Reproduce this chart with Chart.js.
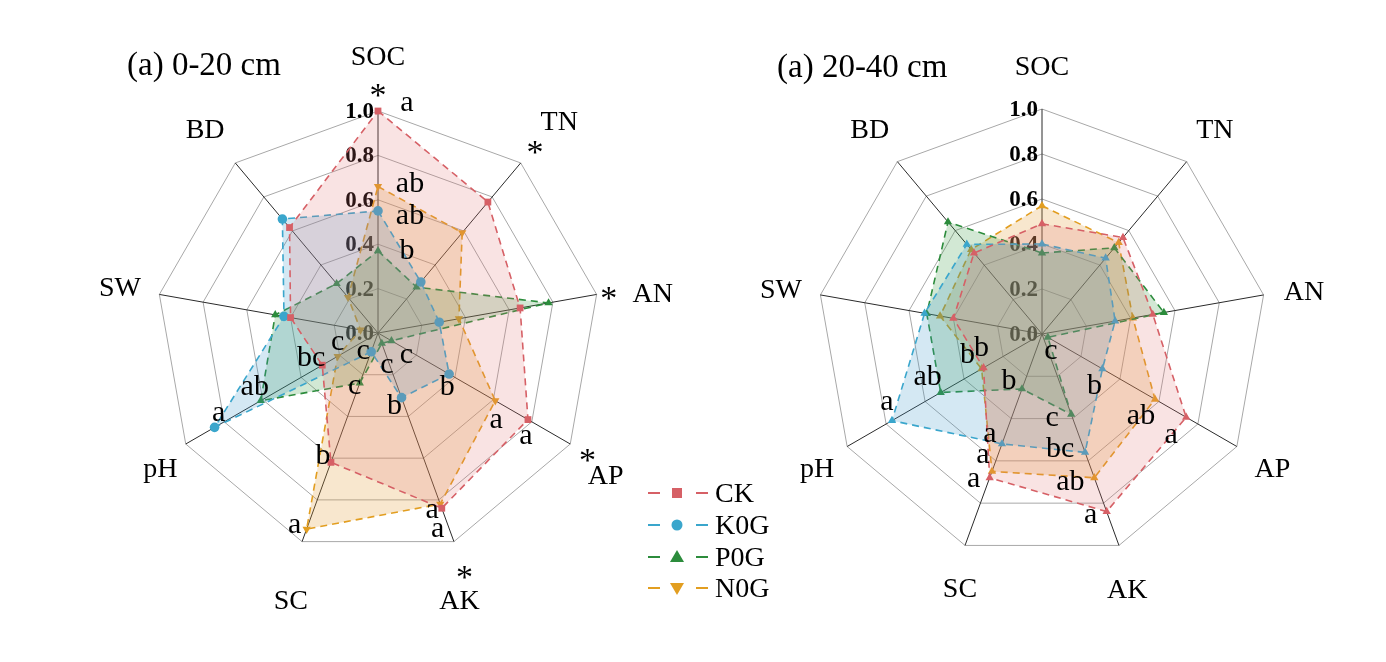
<!DOCTYPE html>
<html>
<head>
<meta charset="utf-8">
<script src="https://cdn.jsdelivr.net/npm/chart.js@4.4.1/dist/chart.umd.min.js"></script>
<style>
  body { margin: 0; background: #fff; }
  #wrap { position: relative; width: 1386px; height: 662px; overflow: hidden; font-family: "Liberation Serif", "Times New Roman", serif; }
  canvas { position: absolute; }
  .title { position: absolute; font-size: 33px; white-space: nowrap; line-height: 1; }
  .leg { position: absolute; left: 646px; height: 30px; display: flex; align-items: center; font-size: 28px; }
  .leg svg { margin-right: 5px; }
</style>
</head>
<body>
<div id="wrap">
  <canvas id="c1" width="640" height="640" style="left:58px;top:13px"></canvas>
  <canvas id="c2" width="640" height="640" style="left:722px;top:14px"></canvas>
  <div class="title" style="left:127px;top:48px">(a) 0-20 cm</div>
  <div class="title" style="left:777px;top:50px">(a) 20-40 cm</div>
  <div id="legend"></div>
</div>
<script>
const axes = ["SOC", "TN", "AN", "AP", "AK", "SC", "pH", "SW", "BD"];
const seriesNames = ["CK", "K0G", "P0G", "N0G"];

// 0-20 cm
const ck1  = [1.00, 0.77, 0.65, 0.78, 0.84, 0.62, 0.29, 0.40, 0.62];
const k0g1 = [0.55, 0.30, 0.28, 0.37, 0.31, 0.09, 0.85, 0.43, 0.67];
const p0g1 = [0.37, 0.27, 0.78, 0.07, 0.05, 0.24, 0.61, 0.47, 0.29];
const n0g1 = [0.66, 0.59, 0.37, 0.61, 0.82, 0.94, 0.21, 0.08, 0.21];
const ckLet1  = ["a", "", "", "a", "a", "b", "bc", "", ""];
const k0gLet1 = ["ab", "", "", "b", "b", "c", "a", "", ""];
const p0gLet1 = ["b", "", "", "c", "c", "c", "ab", "", ""];
const n0gLet1 = ["ab", "", "", "a", "a", "a", "c", "", ""];
const stars1  = ["*", "*", "*", "*", "*", "", "", "", ""];

// 20-40 cm
const ck2  = [0.49, 0.56, 0.50, 0.74, 0.84, 0.68, 0.30, 0.40, 0.47];
const k0g2 = [0.40, 0.44, 0.33, 0.31, 0.56, 0.52, 0.77, 0.53, 0.52];
const p0g2 = [0.36, 0.50, 0.55, 0.03, 0.38, 0.26, 0.52, 0.52, 0.65];
const n0g2 = [0.57, 0.53, 0.41, 0.58, 0.68, 0.65, 0.31, 0.46, 0.49];
const ckLet2  = ["", "", "", "a", "a", "a", "b", "", ""];
const k0gLet2 = ["", "", "", "b", "bc", "a", "a", "", ""];
const p0gLet2 = ["", "", "", "c", "c", "b", "ab", "", ""];
const n0gLet2 = ["", "", "", "ab", "ab", "a", "b", "", ""];
const stars2  = ["", "", "", "", "", "", "", "", ""];

const colors = ["rgb(214,96,102)", "rgb(58,166,204)", "rgb(44,140,60)", "rgb(226,158,32)"];
const fills  = ["rgba(225,115,115,0.2)", "rgba(60,150,200,0.22)", "rgba(50,150,60,0.22)", "rgba(228,160,60,0.25)"];

// letter offsets (px) per axis, per series [CK, K0G, P0G, N0G]
const letOff1 = {
  0: [[29, -6], [32, 7], [29, 2], [32, 0]],
  3: [[-2, 19], [-2, 15], [15, 16], [1, 21]],
  4: [[-4, 23], [-7, 10], [5, 24], [-8, 8]],
  5: [[-8, -4], [-8, 1], [-5, 5], [-12, -2]],
  6: [[-11, -5], [4, -12], [-6, -12], [0, -12]]
};
const letOff2 = {
  3: [[-15, 20], [-8, 19], [3, 16], [-14, 19]],
  4: [[-16, 6], [-25, -1], [-19, 6], [-24, 6]],
  5: [[-16, 3], [-12, -8], [-13, -6], [-9, -14]],
  6: [[-16, -11], [-5, -17], [-13, -13], [0, -19]]
};
// axis-name placement: [px beyond outer ring, dx, dy]
const labelPos1 = [[56, 0, 3], [60, 0, 6], [57, 0, 10], [50, -8, 8], [57, -14, 6], [59, 9, 5], [35, 5, 8], [40, 0, 1], [47, 0, 4]];
const labelPos2 = [[44, 0, 3], [44, 0, 3], [41, 0, 5], [41, 0, 3], [45, -7, 3], [44, 10, 3], [37, 2, 5], [40, 0, 3], [43, 0, 2]];
const starDist1 = [1.1, 1.1, 1.055, 1.09, 1.14, 1, 1, 1, 1];

function textPlugin(letters, stars, offs, lpos, sdist) {
  return {
    id: "txt",
    beforeDatasetsDraw(chart) {
      const s = chart.scales.r, ctx = chart.ctx;
      ctx.save();
      ctx.font = 'bold 23px "Liberation Serif"';
      ctx.textAlign = "right";
      ctx.textBaseline = "middle";
      ctx.fillStyle = "#000";
      s.ticks.forEach(t => {
        const p = s.getPointPositionForValue(0, t.value);
        ctx.fillText(t.value.toFixed(1), p.x - 4, p.y + 1);
      });
      ctx.restore();
    },
    afterDatasetsDraw(chart) {
      const s = chart.scales.r, ctx = chart.ctx;
      ctx.save();
      ctx.fillStyle = "#000";
      ctx.textAlign = "center";
      ctx.textBaseline = "middle";
      // axis names
      ctx.font = '28px "Liberation Serif"';
      axes.forEach((a, i) => {
        const p = s.getPointPosition(i, s.drawingArea + lpos[i][0]);
        ctx.fillText(a, p.x + lpos[i][1], p.y + lpos[i][2]);
      });
      // significance stars
      ctx.font = '34px "Liberation Serif"';
      ctx.textBaseline = "alphabetic";
      stars.forEach((st, i) => {
        if (!st) return;
        const p = s.getPointPosition(i, s.drawingArea * sdist[i]);
        ctx.fillText(st, p.x, p.y + 17);
      });
      // letters
      ctx.font = '30px "Liberation Serif"';
      ctx.textBaseline = "middle";
      chart.data.datasets.forEach((ds, k) => {
        letters[k].forEach((l, i) => {
          if (!l) return;
          const p = s.getPointPositionForValue(i, ds.data[i]);
          const o = offs[i][k];
          ctx.fillText(l, p.x + o[0], p.y + o[1] - 2);
        });
      });
      ctx.restore();
    }
  };
}

function makeChart(id, sets, styles, rotations, letters, stars, offs, lpos, sdist, pad) {
  const datasets = sets.map((d, k) => ({
    label: seriesNames[k],
    data: d,
    borderColor: colors[k],
    backgroundColor: fills[k],
    borderWidth: 1.6,
    borderDash: [7, 5],
    fill: true,
    pointStyle: styles[k],
    rotation: rotations[k],
    pointRadius: 4.8,
    pointBackgroundColor: colors[k],
    pointBorderColor: colors[k],
    pointBorderWidth: 0
  }));
  return new Chart(document.getElementById(id), {
    type: "radar",
    data: { labels: axes, datasets: datasets },
    options: {
      responsive: false,
      animation: false,
      devicePixelRatio: 1,
      layout: { padding: pad },
      elements: { line: { tension: 0 } },
      plugins: { legend: { display: false }, tooltip: { enabled: false } },
      scales: {
        r: {
          min: 0,
          max: 1,
          ticks: { stepSize: 0.2, display: false },
          pointLabels: { display: false },
          grid: { color: "#a8a8a8", lineWidth: 1 },
          angleLines: { color: "#2a2a2a", lineWidth: 1 }
        }
      }
    },
    plugins: [textPlugin(letters, stars, offs, lpos, sdist)]
  });
}

makeChart("c1", [ck1, k0g1, p0g1, n0g1],
  ["rect", "circle", "triangle", "triangle"], [0, 0, 0, 180],
  [ckLet1, k0gLet1, p0gLet1, n0gLet1], stars1, letOff1, labelPos1, starDist1, 98);
makeChart("c2", [ck2, k0g2, p0g2, n0g2],
  ["triangle", "triangle", "triangle", "triangle"], [0, 0, 0, 0],
  [ckLet2, k0gLet2, p0gLet2, n0gLet2], stars2, letOff2, labelPos2, starDist1, 95);

// legend
const markers = [
  c => `<rect x="26" y="10" width="10" height="10" fill="${c}"/>`,
  c => `<circle cx="31" cy="15" r="5.5" fill="${c}"/>`,
  c => `<polygon points="31,8 38,20 24,20" fill="${c}"/>`,
  c => `<polygon points="24,10 38,10 31,22" fill="${c}"/>`
];
const legTops = [478, 510, 542, 573];
const leg = document.getElementById("legend");
seriesNames.forEach((n, k) => {
  const row = document.createElement("div");
  row.className = "leg";
  row.style.top = legTops[k] + "px";
  row.innerHTML = `<svg width="64" height="30"><line x1="2" y1="15" x2="14" y2="15" stroke="${colors[k]}" stroke-width="2"/>` +
    markers[k](colors[k]) +
    `<line x1="50" y1="15" x2="62" y2="15" stroke="${colors[k]}" stroke-width="2"/></svg><span>${n}</span>`;
  leg.appendChild(row);
});
</script>
</body>
</html>
